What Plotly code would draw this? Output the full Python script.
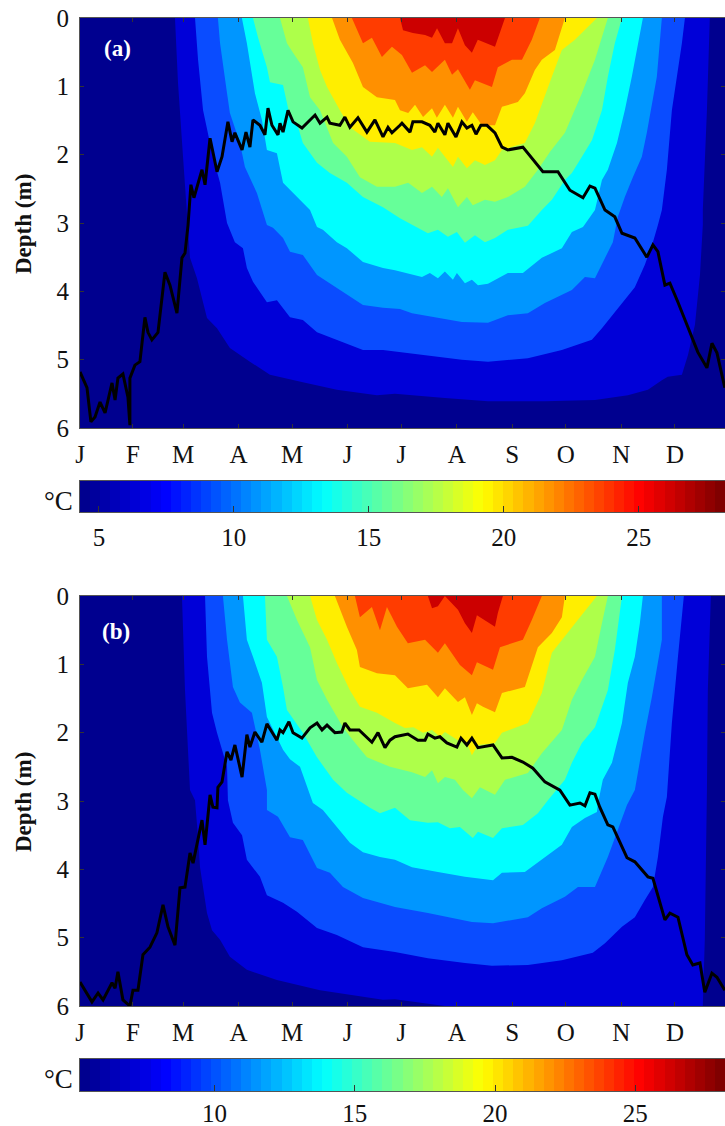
import numpy as np
import plotly.graph_objects as go

# Month axis (day of year at month start) and labels
MONTH_DAYS = [1.4, 31, 59, 90, 120, 151, 181, 212, 243, 273, 304, 334]
MONTH_LABELS = ["J", "F", "M", "A", "M", "J", "J", "A", "S", "O", "N", "D"]
DEPTH_TICKS = [0, 1, 2, 3, 4, 5, 6]
BAND_COLORS = ["#0000D8", "#0A4CFF", "#0096FF", "#00FFFF", "#66FF99", "#AEFF4A",
               "#FFEE00", "#FF9000", "#FF3C00", "#CC0000"]

# Panel (a) isotherms: day of year and depth (m)
A1_DAY = [54.5,56.2,59,61.8,62.9,66.8,72.4,78,85.2,96.4,107.6,126,145,167.4,177.5,205.4,229.5,261.3,289.3,307.7,318.9,326.7,330,337.9,341.3,345.2,348,349.6,349.6,351.9,353.5]
A1_DEP = [0,.95,2.03,3.03,3.51,3.81,4.39,4.54,4.83,5.03,5.22,5.33,5.44,5.52,5.5,5.56,5.61,5.61,5.59,5.52,5.44,5.3,5.25,5.22,4.93,4.49,3.76,3.03,2.81,1.35,0]
A2_DAY = [65.7,67.4,70.2,75.7,79.7,83.6,88,92.5,94.7,98.1,105.9,111.5,118.8,126,133.9,145,159.6,170.8,180.3,195.9,214.9,229.5,251.8,270.8,287.6,293.2,304.4,311.6,317.2,321.7,324.5,326.7,329.5,332.3,337.9,339.6]
A2_DEP = [0,.61,1.35,2.03,2.41,3.0,3.28,3.37,3.66,3.86,4.16,4.13,4.38,4.42,4.6,4.71,4.86,4.86,4.89,4.93,5.0,5.03,4.98,4.86,4.71,4.54,4.17,3.94,3.61,3.28,3.03,2.81,2.22,1.35,.37,0]
A3_DAY = [78.5,79.7,83.6,85.2,90.8,93.6,100.3,105.9,109.3,114.9,118.8,126,133.9,141.1,150.6,159.6,170.8,180.3,187,199.8,214.9,229.5,240.6,251.8,261.3,276.4,283.7,289.3,299.3,302.1,306,310.5,315.5,318.3,323.9,326.7]
A3_DEP = [0,.37,1.1,1.39,1.83,2.18,2.56,3.03,3.07,3.22,3.42,3.47,3.76,3.88,4.05,4.2,4.24,4.26,4.32,4.38,4.45,4.46,4.35,4.32,4.17,3.98,3.79,3.81,3.28,2.91,2.62,2.33,2.03,1.68,.86,0]
A4_DAY = [91.9,94.7,99.2,103.1,105.9,111.5,114.9,122.7,130,133.9,137.2,145,150.6,159.6,170.8,177.5,183.1,192.6,197,201.5,205.4,209.9,212.1,216.6,220.5,223.9,229.5,240.6,249,259.6,270.8,276.4,282.6,289.3,293.2,296.5,301.6,306,309.9,313.3,316.1]
A4_DEP = [0,.37,1.1,1.49,1.93,1.98,2.41,2.62,2.81,3.06,3.1,3.28,3.37,3.57,3.66,3.69,3.73,3.79,3.73,3.81,3.71,3.83,3.73,3.88,3.83,3.91,3.89,3.73,3.73,3.51,3.37,3.13,3.06,2.81,2.37,2.22,1.83,1.35,.86,.37,0]
A5_DAY = [98.1,100.9,105.9,107.6,114.9,118.8,122.7,126,133.9,141.1,150.6,159.6,170.8,180.3,195.9,201.5,207.1,212.1,216.6,222.2,227.8,233.4,240.6,251.8,259.6,265.2,272.5,276.4,282,287.6,293.2,296.5,300.4,304.4]
A5_DEP = [0,.28,.72,.94,.98,1.45,1.54,1.83,2.12,2.27,2.41,2.62,2.77,2.93,3.15,3.1,3.2,3.13,3.29,3.18,3.28,3.22,3.1,3.04,2.81,2.66,2.37,2.27,2.03,1.79,1.35,.86,.37,0]
A6_DAY = [113.2,117.1,120.5,126,130,135.6,142.9,150.6,157.9,167.4,177.5,184.9,192.6,198.2,203.7,207.1,212.7,217.7,221,227.8,233.4,240.6,250.1,257.4,264.1,272.5,282,289.3,296.5]
A6_DEP = [0,.37,.51,.72,1.16,1.35,1.83,2.03,2.33,2.47,2.47,2.41,2.56,2.47,2.62,2.49,2.77,2.62,2.74,2.66,2.69,2.62,2.47,2.22,1.96,1.68,1.1,.61,0]
A7_DAY = [128.8,131.6,135.6,139.5,146.7,152.3,163.5,177.5,187,192.6,198.2,201.5,205.4,209.9,212.7,217.7,222.2,227.8,233.4,237.3,250.1,255.7,265.2,270.8,278.1,290.4]
A7_DEP = [0,.37,.76,1.01,1.35,1.6,1.81,1.83,1.93,1.89,2.03,1.9,2.03,2.18,2.03,2.2,2.08,2.15,2.08,1.93,1.83,1.54,.86,.47,.32,0]
A8_DAY = [142.3,146.7,154,159.6,167.4,177.5,180.3,184.9,188.7,193.2,198.2,200.9,205.4,209.9,212.7,217.7,221,226.1,233.4,237.3,246.2,250.1,255.7,259.6,266.9,272.5]
A8_DEP = [0,.32,.66,1.01,1.16,1.2,1.35,1.39,1.27,1.45,1.32,1.46,1.27,1.46,1.3,1.52,1.38,1.57,1.57,1.3,1.23,1.1,.76,.61,.47,0]
A9_DAY = [153.4,159.6,164.6,170.2,175.8,181.4,187,194.3,198.2,205.4,209.4,212.7,219.4,222.2,231.7,235,242.9,248.5,254,258.5]
A9_DEP = [0,.37,.29,.57,.42,.54,.8,.69,.79,.61,.83,.75,1.05,.91,1.01,.72,.61,.61,.32,0]
A10_DAY = [180.3,182,187.5,194.3,198.2,201,205.4,209.4,212.7,216.6,220.5,223.8,233.4,237.3,239]
A10_DEP = [0,.18,.22,.25,.29,.15,.37,.37,.15,.4,.51,.32,.42,.13,0]

# Panel (a) thick black curve
A_LINE_DAY = [1.4,5.3,7.5,9.8,12.6,15.4,19.3,21,22.6,25.4,28.2,29.3,29.3,32.1,34.9,37.7,39.4,41.6,45,48.9,51.7,55.6,58.4,60.1,61.8,63.4,65.1,69.6,71.3,74.1,78,80.8,84.1,86.4,88,92,94.2,96.4,98.1,102,104.8,106.5,108.7,112.1,113.2,114.9,117.7,120.5,125.5,132.8,135.6,139.5,141.1,146.7,149.5,152.3,156.8,161.8,166.3,170.8,173.6,175.8,180.3,181.4,185.9,187.5,192.6,197,199.8,201.5,205.4,207.1,211.6,214.9,217.7,220.5,222.8,225.5,228.9,233.4,237.3,240.6,249,254,260.2,268.6,275.3,282.6,286.5,289.3,294.9,300.4,304.4,311.6,318.3,321.7,324.5,328.4,331.2,335.7,342.4,346.8,351.9,354.7,357.5,361.9]
A_LINE_DEP = [5.18,5.41,5.91,5.84,5.62,5.78,5.34,5.59,5.27,5.21,5.55,5.96,5.27,5.08,5.03,4.38,4.6,4.71,4.6,3.72,3.91,4.32,3.51,3.44,3.03,2.44,2.63,2.22,2.44,1.76,2.25,2.03,1.52,1.81,1.68,1.93,1.67,1.89,1.49,1.57,1.71,1.32,1.57,1.71,1.54,1.67,1.35,1.52,1.61,1.42,1.54,1.45,1.54,1.57,1.45,1.6,1.46,1.67,1.49,1.74,1.6,1.68,1.57,1.54,1.67,1.52,1.52,1.57,1.67,1.54,1.71,1.54,1.74,1.52,1.61,1.57,1.7,1.57,1.57,1.68,1.89,1.93,1.89,2.05,2.25,2.25,2.52,2.63,2.46,2.49,2.81,2.91,3.15,3.22,3.5,3.32,3.42,3.91,3.88,4.16,4.6,4.89,5.12,4.76,4.9,5.41]

# Panel (b) isotherms
B1_DAY = [58.4,60.1,62.9,65.7,67.4,68.5,72.4,75.2,79.7,85.2,94.7,111.5,135.6,152.3,170.8,177.5,195.9,205.4,349.6,350.7,351.9,352.4,354.1]
B1_DEP = [0,1.38,2.84,2.99,3.53,3.97,4.64,4.89,5.03,5.28,5.47,5.62,5.77,5.84,5.91,5.9,5.96,6.0,6.0,5.03,2.84,1.38,0]
B2_DAY = [71.3,72.4,75.2,78,83.6,84.1,86.9,92,94.7,102,105.9,114.9,122.7,133.9,145,159.6,177.5,195.9,216.6,231.7,251.8,270.8,288.1,294.9,304.4,311.6,317.2,321.7,324.5,327.3,329.5,332.3,335.7,339]
B2_DEP = [0,.89,1.71,2.0,2.5,2.99,3.32,3.5,3.86,4.11,4.38,4.49,4.62,4.86,4.96,5.14,5.21,5.3,5.37,5.41,5.4,5.33,5.22,5.08,4.84,4.7,4.45,4.26,3.82,3.23,2.94,1.86,.89,0]
B3_DAY = [81.3,83.6,86.9,90.8,97.5,102,105.9,105.9,112.1,118.8,126,133.9,141.1,148.4,159.6,169.1,177.5,195.9,220.5,232.3,251.8,259.6,272.5,279.8,289.3,296.5,302.1,307.2,311.6,317.2,321.1,326.7,326.7]
B3_DEP = [0,.64,1.33,1.56,1.71,2.25,2.84,3.13,3.23,3.53,3.57,3.98,4.05,4.26,4.42,4.49,4.55,4.64,4.77,4.79,4.7,4.57,4.4,4.26,4.26,3.82,3.42,3.06,2.84,2.0,1.48,.64,0]
B4_DAY = [92.5,94.7,98.1,103.1,105.9,114.9,118.8,124.4,131.6,137.2,145,152.3,159.6,169.1,177.5,187,201.5,216.6,232.3,237.3,250.1,259.6,270.8,276.4,283.7,290.4,291,293.7,298.8,304.4,307.7,311.6,314.4,316.1]
B4_DEP = [0,.64,.89,1.27,1.77,2.25,2.39,2.5,3.03,3.13,3.38,3.61,3.75,3.82,3.86,3.97,4.04,4.11,4.16,4.05,4.04,3.86,3.64,3.38,3.25,3.16,3.03,2.69,2.44,1.86,1.27,.89,.4,0]
B5_DAY = [104.8,105.9,111.5,114.9,117.1,126,133.9,142.9,150.6,156.8,163.5,169.1,177.5,185.9,195.9,201.5,208.2,213.8,221,223.9,232.3,237.3,249,257.4,263,272.5,276.4,282,289.3,296.5,300.4,304.4]
B5_DEP = [0,.64,.89,1.33,1.67,2.0,2.36,2.69,2.88,2.99,3.1,3.18,3.1,3.28,3.32,3.31,3.4,3.38,3.54,3.45,3.54,3.4,3.35,3.18,2.99,2.69,2.44,2.15,1.92,1.38,.79,0]
B6_DAY = [117.1,122.7,130,133.9,139.5,148.4,154,161.8,174.7,187,194.3,198.2,201.5,205.4,211,215.5,220.5,225,233.4,239,251.8,259.6,270.8,276.4,282,289.3,293.2,296.5]
B6_DEP = [0,.35,.75,1.23,1.52,1.92,2.11,2.36,2.5,2.58,2.65,2.55,2.74,2.65,2.69,2.84,2.96,2.8,2.91,2.69,2.59,2.3,1.96,1.52,1.23,.89,.4,0]
B7_DAY = [130,133.9,139.5,145,152.3,157.9,167.4,177.5,183.1,187.8,193.2,198.2,202.6,205.4,212.7,217.7,220.5,223.9,233.4,237.3,251.8,259.6,265.2,270.8,280.9,290.4]
B7_DEP = [0,.35,.64,.98,1.38,1.62,1.71,1.86,1.93,1.92,2.0,1.96,2.06,1.99,2.11,2.15,2.33,2.18,2.15,2.0,1.86,1.42,.83,.64,.31,0]
B8_DAY = [143.9,150.6,156.2,157.9,167.4,177.5,184.7,195.4,201.5,205.4,212.7,216.6,220.5,223.3,226.7,233.4,237.3,250.1,257.4,265.2,270.8,272.5]
B8_DEP = [0,.45,.79,1.04,1.13,1.16,1.35,1.3,1.48,1.35,1.55,1.48,1.74,1.57,1.62,1.7,1.42,1.33,.75,.54,.31,0]
B9_DAY = [155.1,157.9,164.6,169.1,173,178.6,184.7,194.3,201.5,205.4,213.8,220.5,223.3,232.3,236.2,249,254,259.6]
B9_DEP = [0,.31,.16,.5,.16,.45,.69,.64,.83,.69,1.01,1.16,.97,1.08,.75,.64,.35,0]
B10_DAY = [195.9,198.2,201.5,205.4,212.7,216.6,220.5,223.3,233.4,235,237.8]
B10_DEP = [0,.18,.15,0,.2,.4,.54,.28,.45,.25,0]

# Panel (b) thick black curve
B_LINE_DAY = [1.4,5.3,8.1,11.5,14.3,19.3,21,22.6,25.4,29.3,31,33.8,36.6,40.5,44.4,47.8,50.6,54.5,57.3,60.1,62.9,64.6,67.4,69.6,71.3,74.1,75.7,78,78.5,80.8,83.6,85.8,88,92,94.7,96.4,99.2,103.1,105.9,111.5,113.2,114.9,118.2,120.5,125.5,130,133.9,136.7,139.5,143.9,147.8,149.5,152.3,157.4,164.6,168,171.9,174.7,177.5,184.7,190.3,194.3,195.9,199.8,202.6,206.5,212.1,214.4,217.7,220.5,223.9,232.3,237.3,242.9,249,254.6,261.3,269.7,275.3,280.9,283.7,286.5,289.3,292,296.5,299.3,307.2,311.6,318.9,321.7,328.4,331.2,335.7,340.7,344,348,350.7,354.7,357.5,361.9]
B_LINE_DEP = [5.65,5.81,5.94,5.81,5.91,5.66,5.74,5.5,5.91,6.0,5.77,5.77,5.25,5.14,4.93,4.52,4.84,5.11,4.27,4.26,3.76,3.91,3.53,3.28,3.64,2.91,3.09,3.1,2.8,2.72,2.28,2.4,2.18,2.65,2.03,2.21,1.99,2.14,1.87,2.11,1.96,2.0,1.84,2.0,2.08,1.93,1.86,1.96,1.89,2.0,1.99,1.86,1.96,1.96,2.14,2.0,2.22,2.11,2.06,2.02,2.11,2.11,2.02,2.08,2.06,2.15,2.21,2.08,2.18,2.08,2.22,2.18,2.37,2.36,2.43,2.52,2.72,2.84,3.06,3.03,3.07,2.88,2.9,3.09,3.35,3.38,3.83,3.89,4.11,4.13,4.74,4.64,4.7,5.25,5.4,5.37,5.8,5.52,5.58,5.77]

# Colour ramp (64-step jet) and temperature ticks
CBAR_TICKS_A = [5, 10, 15, 20, 25]
CBAR_TICKS_B = [10, 15, 20, 25]
CBAR_RANGE_A = [4.3, 28.2]
CBAR_RANGE_B = [5.2, 28.2]
JET = [[0, "#00008F"], [0.125, "#0000FF"], [0.375, "#00FFFF"], [0.625, "#FFFF00"], [0.875, "#FF0000"], [1, "#800000"]]

W, H = 725, 1126
FONT = "Liberation Serif"
AX = "#555555"
pxx = lambda v: v / W
pxy = lambda v: 1 - v / H

fig = go.Figure()

def add_band(days, deps, color, xa, ya):
    fig.add_trace(go.Scatter(x=days, y=deps, mode="lines", fill="toself", fillcolor=color,
                             line=dict(width=0, color=color), hoverinfo="skip",
                             showlegend=False, xaxis=xa, yaxis=ya))

for i, (d, z) in enumerate([(A1_DAY, A1_DEP), (A2_DAY, A2_DEP), (A3_DAY, A3_DEP), (A4_DAY, A4_DEP), (A5_DAY, A5_DEP),
                            (A6_DAY, A6_DEP), (A7_DAY, A7_DEP), (A8_DAY, A8_DEP), (A9_DAY, A9_DEP), (A10_DAY, A10_DEP)]):
    add_band(d, z, BAND_COLORS[i], "x", "y")
fig.add_trace(go.Scatter(x=A_LINE_DAY, y=A_LINE_DEP, mode="lines", line=dict(color="black", width=3),
                         showlegend=False, xaxis="x", yaxis="y"))

for i, (d, z) in enumerate([(B1_DAY, B1_DEP), (B2_DAY, B2_DEP), (B3_DAY, B3_DEP), (B4_DAY, B4_DEP), (B5_DAY, B5_DEP),
                            (B6_DAY, B6_DEP), (B7_DAY, B7_DEP), (B8_DAY, B8_DEP), (B9_DAY, B9_DEP), (B10_DAY, B10_DEP)]):
    add_band(d, z, BAND_COLORS[i], "x2", "y2")
fig.add_trace(go.Scatter(x=B_LINE_DAY, y=B_LINE_DEP, mode="lines", line=dict(color="black", width=3),
                         showlegend=False, xaxis="x2", yaxis="y2"))

def ramp(rng, xa, ya):
    edges = np.linspace(rng[0], rng[1], 65)
    fig.add_trace(go.Heatmap(x=edges, y=[0, 1], z=[list(range(64))], colorscale=JET, showscale=False,
                             zmin=0, zmax=63, hoverinfo="skip", xaxis=xa, yaxis=ya))

ramp(CBAR_RANGE_A, "x3", "y3")
ramp(CBAR_RANGE_B, "x4", "y4")

def main_x(anchor):
    return dict(domain=[pxx(80), 1], range=[1.4, 362], anchor=anchor, tickmode="array",
                tickvals=MONTH_DAYS, ticktext=MONTH_LABELS, ticks="inside", ticklen=4, tickcolor="#333",
                showline=True, linecolor=AX, linewidth=1, mirror="allticks", showgrid=False, zeroline=False,
                tickfont=dict(family=FONT, size=25, color="#111"), ticklabelstandoff=4)

def main_y(top, bottom, anchor):
    return dict(domain=[pxy(bottom), pxy(top)], range=[6, 0], anchor=anchor, tickmode="array",
                tickvals=DEPTH_TICKS, ticks="inside", ticklen=4, tickcolor="#333",
                showline=True, linecolor=AX, linewidth=1, mirror="allticks", showgrid=False, zeroline=False,
                tickfont=dict(family=FONT, size=25, color="#111"), ticklabelstandoff=5)

def bar_x(rng, ticks, anchor, standoff):
    return dict(domain=[pxx(80), 1], range=rng, anchor=anchor, tickmode="array", tickvals=ticks,
                ticks="inside", ticklen=6, tickcolor="#333", showline=True, linecolor=AX, linewidth=1,
                mirror=True, showgrid=False, zeroline=False,
                tickfont=dict(family=FONT, size=25, color="#111"), ticklabelstandoff=standoff)

def bar_y(top, bottom, anchor):
    return dict(domain=[pxy(bottom), pxy(top)], range=[0, 1], anchor=anchor, showticklabels=False, ticks="",
                showline=True, linecolor=AX, linewidth=1, mirror=True, showgrid=False, zeroline=False)

fig.update_layout(
    width=W, height=H, autosize=False, margin=dict(l=0, r=0, t=0, b=0, autoexpand=False),
    paper_bgcolor="white", plot_bgcolor="#00008F", showlegend=False,
    xaxis=main_x("y"), yaxis=main_y(18, 428, "x"),
    xaxis2=main_x("y2"), yaxis2=main_y(596, 1006, "x2"),
    xaxis3=bar_x(CBAR_RANGE_A, CBAR_TICKS_A, "y3", 3), yaxis3=bar_y(481, 512, "x3"),
    xaxis4=bar_x(CBAR_RANGE_B, CBAR_TICKS_B, "y4", 0), yaxis4=bar_y(1059, 1091, "x4"),
)

def note(text, x, y, size, color="#111", bold=False, angle=0):
    fig.add_annotation(text=f"<b>{text}</b>" if bold else text, xref="paper", yref="paper",
                       x=pxx(x), y=pxy(y), showarrow=False, textangle=angle,
                       font=dict(family=FONT, size=size, color=color), xanchor="center", yanchor="middle")

note("(a)", 117, 48, 23, "white", True)
note("(b)", 116, 631, 23, "white", True)
note("Depth (m)", 23, 224, 23, "#111", True, -90)
note("Depth (m)", 23, 802, 23, "#111", True, -90)
note("°C", 58, 501, 27)
note("°C", 58, 1079, 27)

fig.write_html("out.html", config=dict(displayModeBar=False),
               post_script="document.documentElement.style.overflow='hidden';document.body.style.margin='0';")
